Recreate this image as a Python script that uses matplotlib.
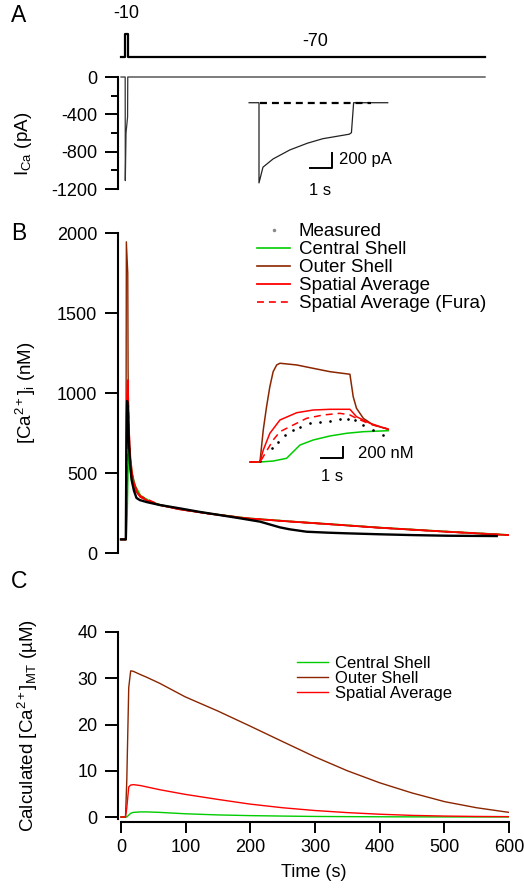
import matplotlib
matplotlib.use('Agg')
import matplotlib.pyplot as plt
from matplotlib.lines import Line2D

# Fonts: Arial-like text, hyphen minus signs
plt.rcParams['font.family'] = ['Liberation Sans', 'DejaVu Sans']
plt.rcParams['mathtext.fontset'] = 'custom'
plt.rcParams['mathtext.rm'] = 'Liberation Sans'
plt.rcParams['mathtext.it'] = 'Liberation Sans:italic'
plt.rcParams['mathtext.default'] = 'regular'
plt.rcParams['axes.unicode_minus'] = False
plt.rcParams['lines.scale_dashes'] = False

GREEN = '#00cc00'
BROWN = '#8b2500'
RED = '#ff0000'

# ---- Panel A: voltage protocol and Ca current ----
volt_t = [0, 6.4, 6.4, 10.4, 10.4, 563]
volt_mv = [-70, -70, -10, -10, -70, -70]

cur_t = [0, 6.5, 6.7, 7.8, 10.2, 10.5, 563]
cur_pa = [0, 0, -1110, -600, -430, 0, 0]

# inset: current during the step (s, pA)
ins_cur_t = [-0.45, 0, 0, 0.18, 0.64, 1.4, 2.2, 2.9, 3.5, 4.1, 4.2, 4.3, 5.85]
ins_cur_pa = [0, 0, -1070, -860, -750, -630, -540, -480, -450, -420, -400, 0, 0]

# ---- Panel B: [Ca2+]i (nM) ----
meas_t = [0, 7.5, 8.3, 9.5, 10.5, 12, 14, 16.5, 20, 24, 29, 40, 60, 91, 120, 153,
          184, 215, 246, 261, 287, 320, 349, 400, 450, 504, 540, 581]
meas_nm = [85, 85, 600, 950, 900, 720, 560, 456, 390, 344, 331, 318, 300, 279, 258, 237,
           217, 196, 160, 148, 133, 127, 123, 117, 112, 108, 107, 106]

central_t = [0, 8.0, 9.5, 11, 12.2, 13.5, 15, 18, 22, 30, 45, 60, 91, 138, 194, 261, 330, 400, 500, 600]
central_nm = [85, 85, 250, 550, 660, 620, 560, 480, 420, 360, 322, 302, 275, 246, 218, 198, 179, 159, 135, 113]

outer_t = [0, 7.6, 8.3, 10.5, 11.0, 11.8, 13, 15, 18, 22, 30, 45, 60, 91, 138, 194, 261, 330, 400, 500, 600]
outer_nm = [85, 85, 1945, 1750, 1150, 800, 600, 490, 430, 390, 350, 318, 299, 272, 244, 216, 196, 177, 157, 133, 111]

spatial_t = [0, 7.8, 8.6, 9.5, 10.5, 11.2, 12, 13, 14.5, 17, 20, 25, 30, 45, 60, 91, 138, 194, 261, 330, 400, 500, 600]
spatial_nm = [85, 85, 850, 1000, 1080, 950, 820, 700, 600, 500, 440, 380, 350, 320, 300, 273, 245, 217, 197, 178, 158, 134, 112]

fura_t = [0, 7.8, 9, 10.5, 11.5, 13, 15, 18, 22, 30, 60, 91, 138, 194, 261, 330, 400, 500, 600]
fura_nm = [85, 85, 600, 990, 900, 700, 560, 470, 410, 355, 300, 273, 245, 217, 197, 178, 158, 134, 112]

# inset B (s from step onset, nM)
in_outer_t = [-0.45, 0, 0.15, 0.3, 0.45, 0.6, 0.76, 0.91, 1.67, 2.42, 3.18, 4.09, 4.24, 4.39, 4.7, 5.15, 5.83]
in_outer_nm = [100, 100, 682, 1105, 1470, 1742, 1864, 1895, 1864, 1803, 1742, 1695, 1287, 1076, 894, 773, 695]

in_spatial_t = [-0.45, 0, 0.15, 0.45, 0.91, 1.67, 2.42, 3.18, 4.09, 4.39, 5.0, 5.83]
in_spatial_nm = [100, 100, 318, 622, 864, 996, 1045, 1058, 1058, 924, 804, 695]

in_fura_t = [-0.45, 0, 0.15, 0.6, 0.91, 1.36, 2.12, 2.88, 3.64, 4.09, 4.39, 5.0, 5.83]
in_fura_nm = [100, 100, 197, 500, 651, 742, 894, 955, 985, 955, 894, 790, 700]

in_central_t = [-0.45, 0, 0.6, 1.21, 1.82, 2.42, 3.18, 3.94, 4.7, 5.83]
in_central_nm = [100, 100, 118, 167, 409, 500, 573, 622, 651, 669]

in_meas_t = [0.0, 0.53, 0.83, 1.14, 1.52, 1.82, 2.27, 2.73, 3.18, 3.64, 4.02, 4.32, 4.7, 5.15, 5.6]
in_meas_nm = [110, 349, 470, 591, 682, 742, 804, 833, 851, 876, 876, 864, 773, 682, 591]

# ---- Panel C: calculated [Ca2+]MT (uM) ----
c_t = [0, 7, 9, 12, 15, 19, 30, 40, 60, 99, 150, 199, 250, 300, 350, 400, 450, 501, 550, 600]
c_outer = [0, 0, 8, 28, 31.6, 31.5, 30.8, 30.2, 28.9, 26.0, 22.9, 19.7, 16.3, 13.0, 10.0, 7.4, 5.2, 3.3, 2.0, 1.0]
c_spatial = [0, 0, 2, 6.5, 6.9, 7.0, 6.8, 6.5, 5.9, 4.9, 3.8, 2.8, 2.0, 1.4, 0.95, 0.6, 0.35, 0.2, 0.12, 0.08]
c_central = [0, 0, 0, 0.4, 0.8, 1.0, 1.1, 1.1, 1.0, 0.7, 0.45, 0.3, 0.2, 0.12, 0.08, 0.05, 0.03, 0.02, 0.01, 0.01]

W, H = 524, 891
fig = plt.figure(figsize=(W / 100, H / 100), dpi=100)


def add_ax(left, top, right, bottom):
    # axes placed by pixel edges
    return fig.add_axes([left / W, 1 - bottom / H, (right - left) / W, (bottom - top) / H])


def left_axis(ax, lo, hi):
    for s in ['top', 'right', 'bottom']:
        ax.spines[s].set_visible(False)
    ax.spines['left'].set_bounds(lo, hi)
    ax.spines['left'].set_linewidth(1.5)
    ax.tick_params(axis='y', which='major', length=9.4, width=1.4, pad=5.5, labelsize=13)
    ax.tick_params(axis='y', which='minor', length=5, width=1.4)
    ax.tick_params(axis='x', which='both', bottom=False, labelbottom=False)
    ax.patch.set_visible(False)


def bare(ax):
    ax.set_axis_off()


XLIM = (-4.6, 600)

# Panel A voltage
axV = add_ax(118, 25, 509, 60)
axV.plot(volt_t, volt_mv, color='black', lw=1.6)
axV.set_xlim(*XLIM)
axV.set_ylim(-77.9, 14.7)
bare(axV)
axV.text(8.4, 46, '-10', ha='center', va='center', fontsize=13, clip_on=False)
axV.text(300, -30, '-70', ha='center', va='center', fontsize=13)

# Panel A current
axA = add_ax(118, 71.4, 509, 194.6)
axA.plot(cur_t, cur_pa, color='#333333', lw=0.9)
axA.set_xlim(*XLIM)
axA.set_ylim(-1260, 60)
axA.set_yticks([0, -400, -800, -1200])
axA.set_yticks([-200, -600, -1000], minor=True)
left_axis(axA, -1200, 0)
axA.set_ylabel('I$_{\\mathrm{Ca}}$ (pA)', fontsize=13.5)
axA.yaxis.set_label_coords(-0.215, 0.41)

axAi = add_ax(245, 95, 395, 195)
axAi.plot(ins_cur_t, ins_cur_pa, color='#222222', lw=0.9)
axAi.plot([0.05, 5.1], [0, 0], color='black', lw=1.6, linestyle=(0, (5, 3.6)))
axAi.set_xlim(-0.636, 6.18)
axAi.set_ylim(-1231, 103)
bare(axAi)
# scale bar: 1 s, 200 pA
sb_t, sb_pa = 3.32, -870
axAi.plot([sb_t - 1, sb_t, sb_t], [sb_pa, sb_pa, sb_pa + 200], color='black', lw=1.4)
axAi.text(sb_t + 0.3, sb_pa + 110, '200 pA', ha='left', va='center', fontsize=12)
axAi.text(sb_t - 0.55, sb_pa - 300, '1 s', ha='center', va='center', fontsize=12)

# Panel B
axB = add_ax(118, 226.6, 509, 559.4)
axB.plot(outer_t, outer_nm, color=BROWN, lw=1.0)
axB.plot(central_t, central_nm, color=GREEN, lw=1.2)
axB.plot(fura_t, fura_nm, color=RED, lw=1.2, linestyle=(0, (5, 3.6)))
axB.plot(spatial_t, spatial_nm, color=RED, lw=1.3)
axB.plot(meas_t, meas_nm, color='black', lw=1.7)
axB.set_xlim(*XLIM)
axB.set_ylim(-40, 2040)
axB.set_yticks([0, 500, 1000, 1500, 2000])
left_axis(axB, 0, 2000)
axB.set_ylabel('[Ca$^{2+}$]$_{\\mathrm{i}}$ (nM)', fontsize=13.5)
axB.yaxis.set_label_coords(-0.205, 0.5)

handles = [
    Line2D([], [], color='#888888', marker='.', ms=3, linestyle='none'),
    Line2D([], [], color=GREEN, lw=1.2),
    Line2D([], [], color=BROWN, lw=1.2),
    Line2D([], [], color=RED, lw=1.3),
    Line2D([], [], color=RED, lw=1.2, linestyle=(0, (5, 3.6))),
]
labels = ['Measured', 'Central Shell', 'Outer Shell', 'Spatial Average', 'Spatial Average (Fura)']
fig.legend(handles, labels, loc='upper left', bbox_to_anchor=(257 / W, 1 - 223 / H),
           frameon=False, fontsize=13.5, handlelength=1.76, handletextpad=0.48,
           labelspacing=0.05, borderpad=0, borderaxespad=0, numpoints=1)

axBi = add_ax(245, 355, 395, 480)
axBi.plot(in_outer_t, in_outer_nm, color=BROWN, lw=1.1)
axBi.plot(in_central_t, in_central_nm, color=GREEN, lw=1.1)
axBi.plot(in_meas_t, in_meas_nm, color='black', marker='.', ms=1.8, linestyle='none')
axBi.plot(in_fura_t, in_fura_nm, color=RED, lw=1.1, linestyle=(0, (5, 3.6)))
axBi.plot(in_spatial_t, in_spatial_nm, color=RED, lw=1.1)
axBi.set_xlim(-0.68, 6.14)
axBi.set_ylim(-227, 2045)
bare(axBi)
# scale bar: 1 s, 200 nM
sb_t, sb_nm = 3.77, 173
axBi.plot([sb_t - 1, sb_t, sb_t], [sb_nm, sb_nm, sb_nm + 200], color='black', lw=1.4)
axBi.text(sb_t + 0.68, sb_nm + 90, '200 nM', ha='left', va='center', fontsize=12)
axBi.text(sb_t - 0.5, sb_nm - 330, '1 s', ha='center', va='center', fontsize=12)

# Panel C
axC = add_ax(118, 632, 509, 822)
axC.plot(c_t, c_central, color=GREEN, lw=1.0, label='Central Shell')
axC.plot(c_t, c_outer, color=BROWN, lw=1.0, label='Outer Shell')
axC.plot(c_t, c_spatial, color=RED, lw=1.0, label='Spatial Average')
axC.set_xlim(*XLIM)
axC.set_ylim(-1.08, 40)
axC.set_yticks([0, 10, 20, 30, 40])
left_axis(axC, -0.5, 40)
axC.spines['bottom'].set_visible(True)
axC.spines['bottom'].set_bounds(0, 600)
axC.spines['bottom'].set_linewidth(1.5)
axC.set_xticks([0, 100, 200, 300, 400, 500, 600])
axC.tick_params(axis='x', which='major', bottom=True, labelbottom=True, length=8, width=1.4,
                pad=4, labelsize=13)
axC.set_xlabel('Time (s)', fontsize=13, labelpad=6)
axC.set_ylabel('Calculated [Ca$^{2+}$]$_{\\mathrm{MT}}$ (µM)', fontsize=13.5)
axC.yaxis.set_label_coords(-0.2, 0.51)
axC.legend(loc='upper left', bbox_to_anchor=(297 / W, 1 - 656 / H), bbox_transform=fig.transFigure,
           frameon=False, fontsize=12, handlelength=1.86, handletextpad=0.42,
           labelspacing=0.0, borderpad=0, borderaxespad=0)

# Panel letters
fig.text(11 / W, 1 - 4 / H, 'A', fontsize=16.5, va='top', ha='left')
fig.text(11 / W, 1 - 222 / H, 'B', fontsize=16.5, va='top', ha='left')
fig.text(11 / W, 1 - 570 / H, 'C', fontsize=16.5, va='top', ha='left')

fig.savefig('out.png', dpi=100)
